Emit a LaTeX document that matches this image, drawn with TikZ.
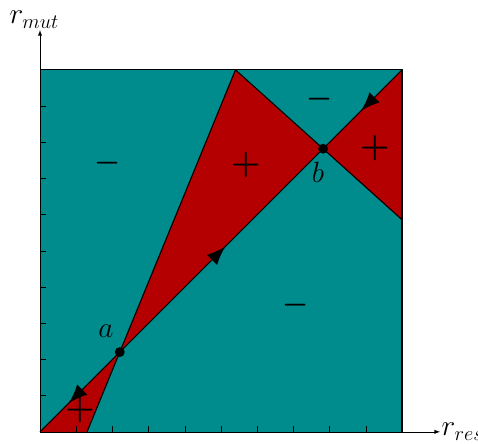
\documentclass[tikz,border=0pt]{standalone}
\usepackage{amsmath, amssymb}
\usetikzlibrary{
  % arrows in the middle of a path
  decorations.markings,%
  calc,%
  positioning
}
\definecolor{negregion}{RGB}{0,140,140}
\definecolor{posregion}{RGB}{180,0,0}
\tikzset{>=latex}
\tikzset{midarrow/.style={postaction={decorate},
    decoration={markings, mark=at position #1 with {\arrow[scale=2.6]{latex}}}}}
\tikzset{fixpt/.style={circle, fill=black, inner sep=0pt, minimum size=7pt}}
\tikzset{possign/.style={font=\huge\boldmath, scale=1.15}}
\tikzset{negsign/.style={font=\huge\boldmath}}

\begin{document}
\begin{tikzpicture}[x=0.9cm, y=0.9cm, font=\huge]
  \useasboundingbox (-1.105,-0.331) rectangle (12.1,11.93);
  \coordinate (o) at (0,0);
  \coordinate (tr) at (10,10);
  \coordinate (top) at (5.4,10);
  \coordinate (bot) at (1.3,0);
  \coordinate (rgt) at (10,5.86);
  \coordinate (a) at (intersection of top--bot and o--tr);
  \coordinate (b) at (intersection of top--rgt and o--tr);
  % regions
  \fill[negregion] (o) rectangle (tr);
  \fill[posregion] (o) -- (bot) -- (a) -- cycle;
  \fill[posregion] (a) -- (top) -- (b) -- cycle;
  \fill[posregion] (b) -- (tr) -- (rgt) -- cycle;
  \draw[thick] (0,10) -- (tr) -- (10,0);
  \draw[thick] (bot) -- (top) -- (rgt);
  \draw[thick, midarrow=0.52] (tr) -- (b);
  \draw[thick, midarrow=0.52] (a) -- (b);
  \draw[thick, midarrow=0.64] (a) -- (o);
  % axes
  \draw[-{latex[scale=1.5]}] (o) -- (11.05,0) node[right, inner sep=1pt] (xlab) {$r_{res}$};
  \draw[-{latex[scale=1.5]}] (o) -- (0,11.1) node[above, inner sep=1pt, xshift=-4pt] (ylab) {$r_{mut}$};
  \foreach \x in {1,...,9}
    \draw (\x,0) -- (\x,0.17);
  \foreach \y in {1,...,9}
    \draw (0,\y) -- (0.17,\y);
  % fixed points
  \node[fixpt] (pa) at (a) {};
  \node[fixpt] (pb) at (b) {};
  \node (la) at ($(a)+(-0.38,0.59)$) {$a$};
  \node (lb) at ($(b)+(-0.14,-0.64)$) {$b$};
  % signs
  \node[negsign] (s1) at (1.88,7.43) {$-$};
  \node[possign] (s2) at (5.69,7.38) {$+$};
  \node[negsign] (s3) at (7.73,9.2) {$-$};
  \node[possign] (s4) at (9.25,7.85) {$+$};
  \node[negsign] (s5) at (7.07,3.5) {$-$};
  \node[possign] (s6) at (1.1,0.6) {$+$};
\end{tikzpicture}
\end{document}
